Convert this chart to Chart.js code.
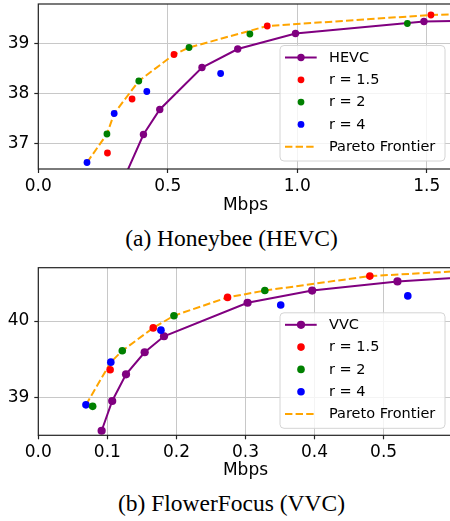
<!DOCTYPE html>
<html>
<head>
<meta charset="utf-8">
<script src="https://cdn.jsdelivr.net/npm/chart.js@4.4.1/dist/chart.umd.min.js"></script>
<style>
  html, body { margin: 0; padding: 0; background: #fff; overflow: hidden; }
  #page { position: relative; width: 450px; height: 521px; overflow: hidden; }
  .box { position: absolute; left: 0; width: 460px; }
  .cap {
    position: absolute; left: 0; width: 463px; text-align: center;
    font-family: "Liberation Serif", "Times New Roman", serif;
    font-size: 23.5px; line-height: 23px; color: #000;
  }
</style>
</head>
<body>
<div id="page">
  <div class="box" style="top:0;height:218px"><canvas id="hevc-chart" width="460" height="218"></canvas></div>
  <div class="cap" style="top:227px">(a) Honeybee (HEVC)</div>
  <div class="box" style="top:260px;height:222px"><canvas id="vvc-chart" width="460" height="222"></canvas></div>
  <div class="cap" style="top:492px">(b) FlowerFocus (VVC)</div>
</div>
<script>
// --- Data: (a) Honeybee (HEVC) ---
const hevcX = [0.30, 0.406, 0.469, 0.632, 0.770, 0.993, 1.489, 1.70];
const hevcY = [35.95, 37.19, 37.69, 38.53, 38.90, 39.21, 39.45, 39.47];
const hevcR15X = [0.267, 0.362, 0.524, 0.884, 1.516];
const hevcR15Y = [36.82, 37.90, 38.79, 39.36, 39.58];
const hevcR2X = [0.265, 0.388, 0.582, 0.817, 1.425];
const hevcR2Y = [37.20, 38.26, 38.93, 39.20, 39.41];
const hevcR4X = [0.188, 0.293, 0.419, 0.704];
const hevcR4Y = [36.63, 37.61, 38.05, 38.41];
const hevcParetoX = [0.188, 0.265, 0.293, 0.388, 0.524, 0.582, 0.884, 1.516, 1.70];
const hevcParetoY = [36.63, 37.20, 37.61, 38.26, 38.79, 38.93, 39.36, 39.58, 39.61];
const hevcXTicks = [0, 0.5, 1.0, 1.5];
const hevcYTicks = [37, 38, 39];

// --- Data: (b) FlowerFocus (VVC) ---
const vvcX = [0.0917, 0.107, 0.127, 0.154, 0.182, 0.303, 0.3965, 0.520, 0.70];
const vvcY = [38.56, 38.95, 39.30, 39.59, 39.80, 40.24, 40.40, 40.52, 40.62];
const vvcR15X = [0.104, 0.1664, 0.274, 0.480];
const vvcR15Y = [39.36, 39.91, 40.31, 40.59];
const vvcR2X = [0.0787, 0.1216, 0.1964, 0.328];
const vvcR2Y = [38.88, 39.61, 40.07, 40.40];
const vvcR4X = [0.069, 0.105, 0.1776, 0.351, 0.535];
const vvcR4Y = [38.90, 39.46, 39.88, 40.21, 40.33];
const vvcParetoX = [0.069, 0.105, 0.1216, 0.1664, 0.1964, 0.274, 0.328, 0.480, 0.70];
const vvcParetoY = [38.90, 39.46, 39.61, 39.91, 40.07, 40.31, 40.40, 40.59, 40.70];
const vvcXTicks = [0, 0.1, 0.2, 0.3, 0.4, 0.5];
const vvcYTicks = [39, 40];

const FONT = "'DejaVu Sans', sans-serif";

function pts(xs, ys) {
  return xs.map((x, i) => ({ x, y: ys[i] }));
}

// drop the extra room Chart.js keeps for half tick labels
function noScalePadding(s) {
  s.paddingTop = 0;
  s.paddingBottom = 0;
  s.paddingLeft = 0;
  s.paddingRight = 0;
}

// frame around the plot area (matplotlib spines)
const framePlugin = {
  id: "frame",
  afterDatasetsDraw(chart) {
    const { ctx, chartArea: a } = chart;
    ctx.save();
    ctx.strokeStyle = "#222";
    ctx.lineWidth = 1.2;
    ctx.strokeRect(a.left, a.top, a.right - a.left, a.bottom - a.top);
    ctx.restore();
  },
};

// legend box in the lower right corner, drawn like matplotlib's
const boxLegend = {
  id: "boxLegend",
  afterDraw(chart, args, opts) {
    const { ctx, chartArea: a } = chart;
    const w = 165, h = 115.5;
    const x = a.right - opts.right - w;
    const y = a.bottom - opts.bottom - h;
    ctx.save();
    ctx.beginPath();
    ctx.roundRect(x, y, w, h, 4);
    ctx.fillStyle = "rgba(255,255,255,0.8)";
    ctx.fill();
    ctx.strokeStyle = "#d4d4d4";
    ctx.lineWidth = 1;
    ctx.stroke();
    ctx.font = "14.5px " + FONT;
    ctx.textBaseline = "middle";
    chart.data.datasets.forEach((ds, i) => {
      const cy = y + 12 + i * 22.3;
      if (ds.showLine) {
        ctx.beginPath();
        ctx.setLineDash(ds.borderDash || []);
        ctx.strokeStyle = ds.borderColor;
        ctx.lineWidth = ds.borderWidth;
        ctx.moveTo(x + 5, cy);
        ctx.lineTo(x + 36.7, cy);
        ctx.stroke();
        ctx.setLineDash([]);
      }
      if (ds.pointRadius > 0) {
        ctx.beginPath();
        ctx.arc(x + 21, cy, ds.pointRadius, 0, Math.PI * 2);
        ctx.fillStyle = ds.backgroundColor;
        ctx.fill();
      }
      ctx.fillStyle = "#000";
      ctx.fillText(ds.label, x + 49, cy + 0.5);
    });
    ctx.restore();
  },
};

function makeChart(id, cfg) {
  const dot = cfg.dot;
  const datasets = [
    {
      label: cfg.codec,
      data: pts(cfg.lineX, cfg.lineY),
      showLine: true,
      borderColor: "#800080",
      backgroundColor: "#800080",
      borderWidth: 2,
      pointRadius: dot + 0.3,
      pointBorderWidth: 0,
      order: 1,
    },
    { label: "r = 1.5", data: pts(cfg.r15X, cfg.r15Y), backgroundColor: "#ff0000", pointRadius: dot, pointBorderWidth: 0, order: 0 },
    { label: "r = 2", data: pts(cfg.r2X, cfg.r2Y), backgroundColor: "#008000", pointRadius: dot, pointBorderWidth: 0, order: 0 },
    { label: "r = 4", data: pts(cfg.r4X, cfg.r4Y), backgroundColor: "#0000ff", pointRadius: dot, pointBorderWidth: 0, order: 0 },
    {
      label: "Pareto Frontier",
      data: pts(cfg.parX, cfg.parY),
      showLine: true,
      borderColor: "#ffa500",
      backgroundColor: "#ffa500",
      borderWidth: 2,
      borderDash: [7.4, 3.2],
      pointRadius: 0,
      order: 2,
    },
  ];

  const gridOpts = {
    color: "#c8c8c8",
    lineWidth: 1,
    tickColor: "#222",
    tickLength: 4,
    tickWidth: 1.2,
  };

  return new Chart(document.getElementById(id), {
    type: "scatter",
    data: { datasets },
    options: {
      responsive: false,
      animation: false,
      layout: { padding: { top: cfg.padTop, right: 7.3, left: 0, bottom: 0 } },
      plugins: {
        legend: { display: false },
        tooltip: { enabled: false },
        boxLegend: { right: 7.7, bottom: cfg.legBottom },
      },
      scales: {
        x: {
          type: "linear",
          min: cfg.xMin,
          max: cfg.xMax,
          afterBuildTicks: (s) => { s.ticks = cfg.xTicks.map((v) => ({ value: v })); },
          afterFit: (s) => { s.height = cfg.xAxisH; noScalePadding(s); },
          border: { display: false },
          grid: gridOpts,
          ticks: {
            color: "#000",
            font: { family: FONT, size: 17 },
            padding: 3,
            maxRotation: 0,
            callback: (v) => v.toFixed(1),
          },
          title: {
            display: true,
            text: "Mbps",
            color: "#000",
            font: { family: FONT, size: 17, lineHeight: 1 },
            padding: { top: 0, bottom: cfg.titlePad },
          },
        },
        y: {
          type: "linear",
          min: cfg.yMin,
          max: cfg.yMax,
          afterBuildTicks: (s) => { s.ticks = cfg.yTicks.map((v) => ({ value: v })); },
          afterFit: (s) => { s.width = 38.3; noScalePadding(s); },
          border: { display: false },
          grid: gridOpts,
          ticks: {
            color: "#000",
            font: { family: FONT, size: 17 },
            padding: 5,
            callback: (v) => String(v),
          },
        },
      },
    },
    plugins: [framePlugin, boxLegend],
  });
}

makeChart("hevc-chart", {
  codec: "HEVC", dot: 3.4,
  lineX: hevcX, lineY: hevcY,
  r15X: hevcR15X, r15Y: hevcR15Y,
  r2X: hevcR2X, r2Y: hevcR2Y,
  r4X: hevcR4X, r4Y: hevcR4Y,
  parX: hevcParetoX, parY: hevcParetoY,
  xTicks: hevcXTicks, yTicks: hevcYTicks,
  xMin: 0, xMax: 1.6, yMin: 36.5, yMax: 39.8,
  padTop: 1.74, xAxisH: 49, titlePad: 4, legBottom: 8,
});

makeChart("vvc-chart", {
  codec: "VVC", dot: 3.8,
  lineX: vvcX, lineY: vvcY,
  r15X: vvcR15X, r15Y: vvcR15Y,
  r2X: vvcR2X, r2Y: vvcR2Y,
  r4X: vvcR4X, r4Y: vvcR4Y,
  parX: vvcParetoX, parY: vvcParetoY,
  xTicks: vvcXTicks, yTicks: vvcYTicks,
  xMin: 0, xMax: 0.6, yMin: 38.5, yMax: 40.7,
  padTop: 7.7, xAxisH: 46.7, titlePad: 3.1, legBottom: 7,
});
</script>
</body>
</html>
